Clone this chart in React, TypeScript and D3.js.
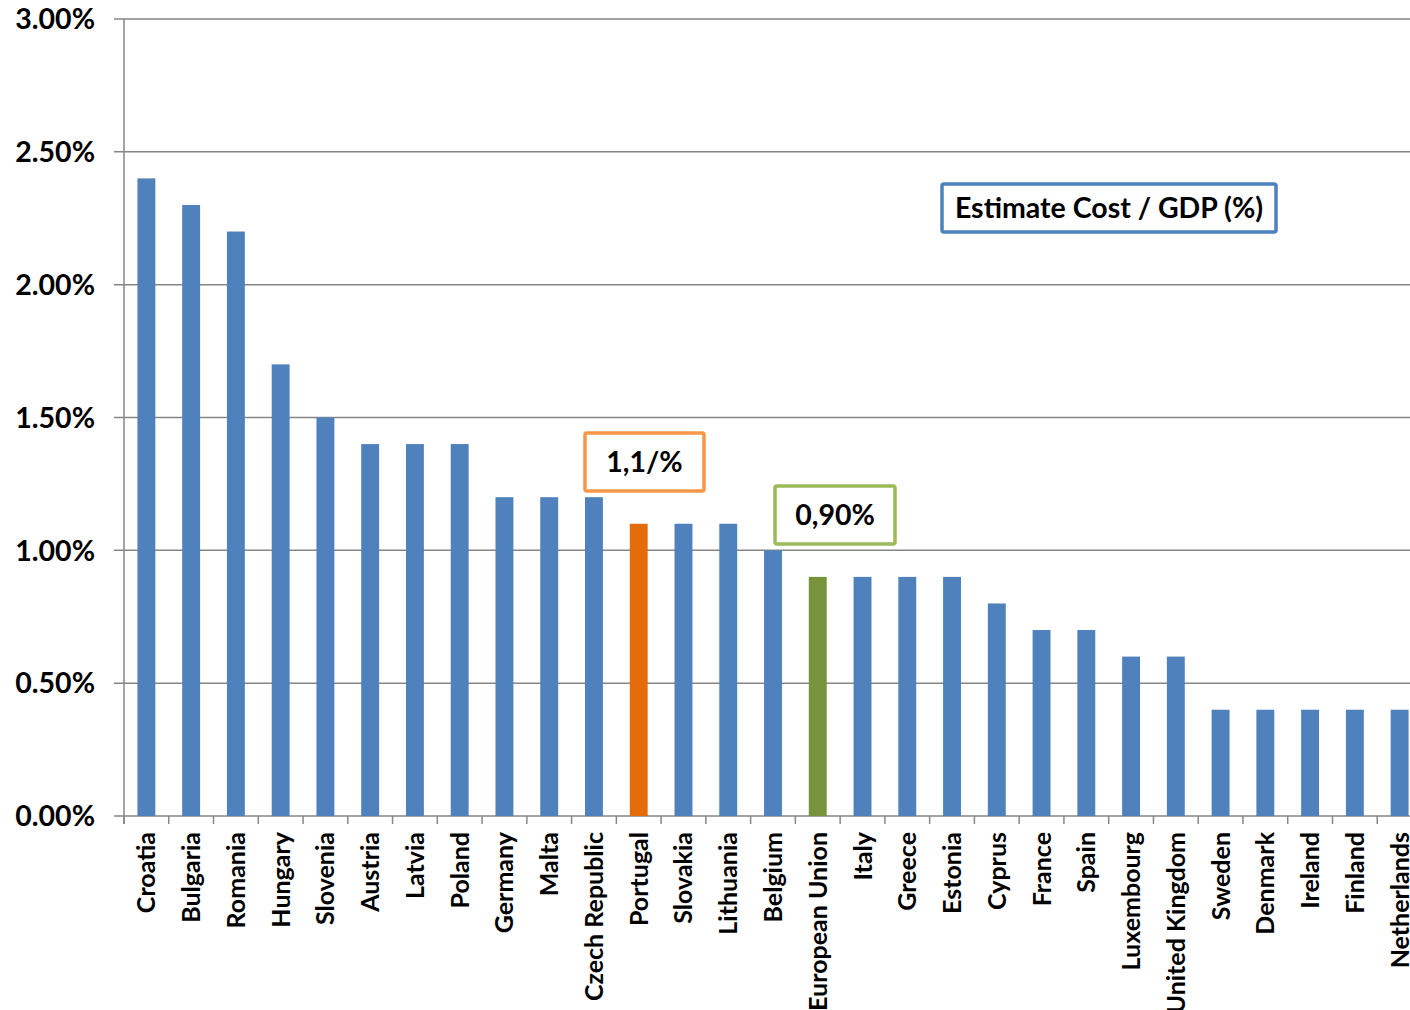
import React from "react";
import * as d3 from "d3";

// Estimated cost as a share of GDP, by country
const countries = [
  "Croatia", "Bulgaria", "Romania", "Hungary", "Slovenia", "Austria", "Latvia",
  "Poland", "Germany", "Malta", "Czech Republic", "Portugal", "Slovakia",
  "Lithuania", "Belgium", "European Union", "Italy", "Greece", "Estonia",
  "Cyprus", "France", "Spain", "Luxembourg", "United Kingdom", "Sweden",
  "Denmark", "Ireland", "Finland", "Netherlands",
];
const costShare = [
  2.4, 2.3, 2.2, 1.7, 1.5, 1.4, 1.4, 1.4, 1.2, 1.2, 1.2, 1.1, 1.1, 1.1, 1.0,
  0.9, 0.9, 0.9, 0.9, 0.8, 0.7, 0.7, 0.6, 0.6, 0.4, 0.4, 0.4, 0.4, 0.4,
];
const yTicks = [0, 0.5, 1, 1.5, 2, 2.5, 3];

const highlight: Record<string, string> = {
  Portugal: "#E46C0A",
  "European Union": "#77933C",
};

const W = 1410;
const H = 1010;
const FONT = "Lato, 'Open Sans', sans-serif";

export default function App() {
  const x = d3.scaleBand<string>().domain(countries).range([124, 1422]).paddingInner(0.6).paddingOuter(0.3);
  const xEdge = d3.scaleLinear().domain([0, countries.length]).range([124, 1422]);
  const y = d3.scaleLinear().domain([0, 3]).range([816, 19]);
  const grid = "#868686";

  return (
    <svg width={W} height={H} style={{ position: "absolute", left: 0, top: 0, background: "#fff" }} fontFamily={FONT}>
      {yTicks.map((t) => (
        <g key={t}>
          <line x1={114} x2={1410} y1={y(t)} y2={y(t)} stroke={grid} strokeWidth={1.5} />
          <text x={95} y={y(t)} dy="0.36em" textAnchor="end" fontSize={28.5} fontWeight={700} fill="#000">
            {t.toFixed(2) + "%"}
          </text>
        </g>
      ))}
      <line x1={124} x2={124} y1={y(3)} y2={824} stroke={grid} strokeWidth={1.5} />
      {d3.range(countries.length + 1).map((i) => (
        <line key={i} x1={xEdge(i)} x2={xEdge(i)} y1={816} y2={824} stroke={grid} strokeWidth={1.5} />
      ))}
      {countries.map((c, i) => (
        <rect
          key={c}
          x={x(c)}
          width={x.bandwidth()}
          y={y(costShare[i])}
          height={y(0) - y(costShare[i])}
          fill={highlight[c] || "#4F81BD"}
        />
      ))}
      {countries.map((c) => {
        const cx = (x(c) as number) + x.bandwidth() / 2;
        return (
          <text
            key={c}
            transform={`translate(${cx},832) rotate(-90)`}
            dy="0.36em"
            textAnchor="end"
            fontSize={25}
            fontWeight={700}
            fill="#000"
          >
            {c}
          </text>
        );
      })}
      <rect x={585} y={433} width={119} height={58} rx={2} fill="#fff" stroke="#F79646" strokeWidth={3.5} />
      <text x={644.5} y={462} dy="0.36em" textAnchor="middle" fontSize={28.5} fontWeight={700}>1,1/%</text>
      <rect x={775} y={486} width={120} height={58} rx={2} fill="#fff" stroke="#9BBB59" strokeWidth={3.5} />
      <text x={835} y={515} dy="0.36em" textAnchor="middle" fontSize={28.5} fontWeight={700}>0,90%</text>
      <rect x={942} y={184} width={334} height={48} rx={2} fill="#fff" stroke="#4F81BD" strokeWidth={3.5} />
      <text x={1109} y={208} dy="0.36em" textAnchor="middle" fontSize={28.5} fontWeight={700}>Estimate Cost / GDP (%)</text>
    </svg>
  );
}
